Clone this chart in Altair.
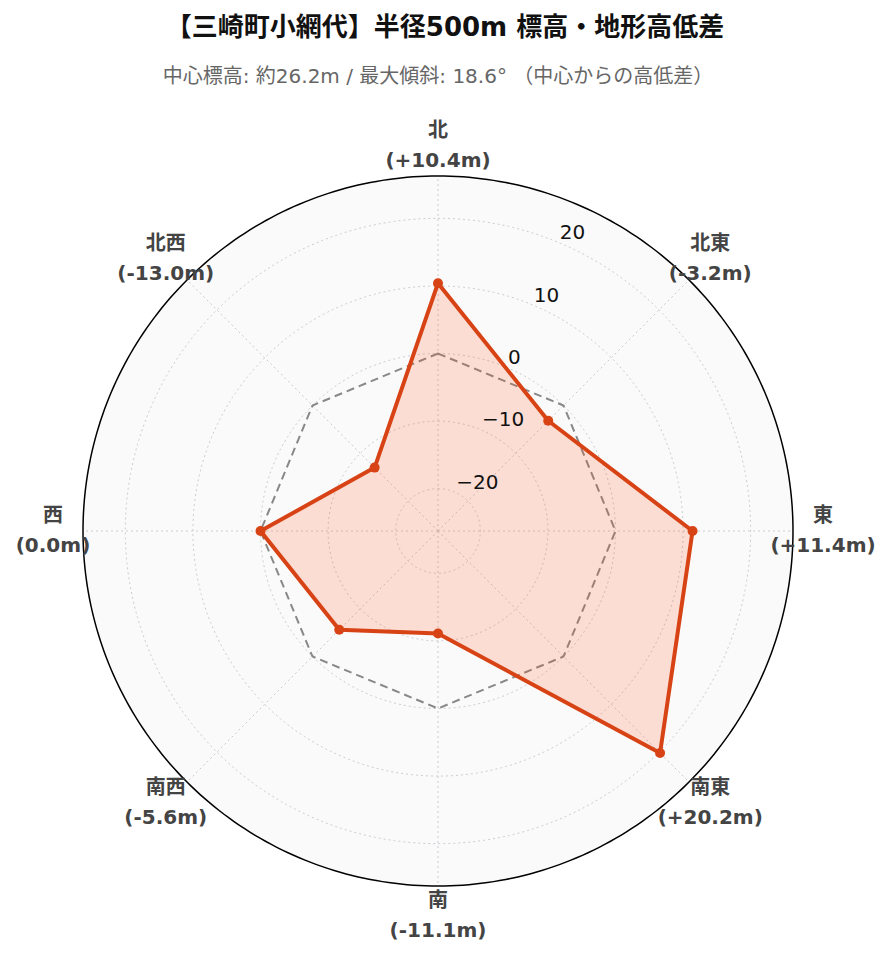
import altair as alt
import pandas as pd

# ---------------- data ----------------
directions = ["北", "北東", "東", "南東", "南", "南西", "西", "北西"]
diffs = [10.4, -3.2, 11.4, 20.2, -11.1, -5.6, 0.0, -13.0]
grid_values = [-20, -10, 0, 10, 20]
tick_labels = ["\u221220", "\u221210", "0", "10", "20"]
title_text = "【三崎町小網代】半径500m 標高・地形高低差"
subtitle_text = "中心標高: 約26.2m / 最大傾斜: 18.6° （中心からの高低差）"

R_MIN, R_MAX = -26.26, 26.26  # radial axis range

# ---------------- layout ----------------
W, H = 875, 946
CX, CY = 430, 523            # centre of the polar area (px)
OUTER_PX = 355               # outer circle radius (px)
PX = OUTER_PX / (R_MAX - R_MIN)
LABEL_R = 385 / PX           # angular label distance (data units from centre)
TICK_ANGLE = 22.5

X_DOM = [-CX / PX, (W - CX) / PX]
Y_DOM = [-(H - CY) / PX, CY / PX]


def fmt(v):
    if v > 0:
        return f"(+{v:.1f}m)"
    if v < 0:
        return f"({v:.1f}m)"
    return "(0.0m)"


df = pd.DataFrame({
    "dir": directions,
    "v": diffs,
    "i": list(range(len(directions))),
    "label": [f"{d}|{fmt(v)}" for d, v in zip(directions, diffs)],
})
grid_df = pd.DataFrame({"g": grid_values, "lab": tick_labels})


def X(f):
    return alt.X(f, type="quantitative", scale=alt.Scale(domain=X_DOM, nice=False, zero=False), axis=None)


def Y(f):
    return alt.Y(f, type="quantitative", scale=alt.Scale(domain=Y_DOM, nice=False, zero=False), axis=None)


RAD = "PI/180"

# background disc
disc = alt.Chart(pd.DataFrame({"g": [R_MAX]})).transform_calculate(
    a="sequence(0, 360, 1)"
).transform_flatten(["a"]).transform_calculate(
    r=f"datum.g - ({R_MIN})",
).transform_calculate(
    x=f"datum.r * sin(datum.a*{RAD})", y=f"datum.r * cos(datum.a*{RAD})"
).mark_line(interpolate="linear-closed", fill="#fafafa", stroke="black", strokeWidth=1.5).encode(
    x=X("x"), y=Y("y"), order=alt.Order("a:Q")
)

# grid circles
grid = alt.Chart(grid_df).transform_calculate(
    a="sequence(0, 360, 1)"
).transform_flatten(["a"]).transform_calculate(
    r=f"datum.g - ({R_MIN})",
).transform_calculate(
    x=f"datum.r * sin(datum.a*{RAD})", y=f"datum.r * cos(datum.a*{RAD})"
).mark_line(interpolate="linear-closed", stroke="#c9cdd2", strokeWidth=1, strokeDash=[2, 3]).encode(
    x=X("x"), y=Y("y"), detail="g:N", order=alt.Order("a:Q")
)

# spokes
spokes = alt.Chart(df).transform_calculate(
    x0="0", y0="0",
    x1=f"({R_MAX - R_MIN}) * sin(datum.i*45*{RAD})",
    y1=f"({R_MAX - R_MIN}) * cos(datum.i*45*{RAD})",
).mark_rule(stroke="#c9cdd2", strokeWidth=1, strokeDash=[2, 3]).encode(
    x=X("x0"), y=Y("y0"), x2="x1:Q", y2="y1:Q"
)

# zero reference (dashed)
zero = alt.Chart(df).transform_calculate(
    r=f"0 - ({R_MIN})"
).transform_calculate(
    x=f"datum.r * sin(datum.i*45*{RAD})", y=f"datum.r * cos(datum.i*45*{RAD})"
).mark_line(interpolate="linear-closed", stroke="#888888", strokeWidth=2, strokeDash=[8, 5]).encode(
    x=X("x"), y=Y("y"), order=alt.Order("i:Q")
)

base = alt.Chart(df).transform_calculate(
    r=f"datum.v - ({R_MIN})"
).transform_calculate(
    x=f"datum.r * sin(datum.i*45*{RAD})", y=f"datum.r * cos(datum.i*45*{RAD})"
)

area = base.mark_line(
    interpolate="linear-closed", fill="#ff5722", fillOpacity=0.18,
    stroke="#d84315", strokeWidth=4, strokeJoin="round"
).encode(x=X("x"), y=Y("y"), order=alt.Order("i:Q"))

pts = base.mark_circle(size=100, color="#d84315", opacity=1).encode(x=X("x"), y=Y("y"))

# radial tick labels
ticks = alt.Chart(grid_df).transform_calculate(
    r=f"datum.g - ({R_MIN})"
).transform_calculate(
    x=f"datum.r * sin({TICK_ANGLE}*{RAD})", y=f"datum.r * cos({TICK_ANGLE}*{RAD})"
).mark_text(
    align="left", baseline="alphabetic", dx=2, dy=-3,
    font="DejaVu Sans", fontSize=20, color="#111111"
).encode(x=X("x"), y=Y("y"), text="lab:N")

# angular labels
ang = alt.Chart(df).transform_calculate(
    x=f"{LABEL_R} * sin(datum.i*45*{RAD})",
    y=f"{LABEL_R} * cos(datum.i*45*{RAD})",
    t="split(datum.label, '|')",
).mark_text(
    align="center", baseline="middle", lineHeight=30, dy=-15,
    font="DejaVu Sans, Noto Sans CJK JP", fontWeight="bold", fontSize=20, color="#444444"
).encode(x=X("x"), y=Y("y"), text=alt.Text("t", type="nominal"))

title = alt.Chart(pd.DataFrame({"t": [title_text]})).mark_text(
    align="center", baseline="middle", font="DejaVu Sans, Noto Sans CJK JP",
    fontWeight="bold", fontSize=26, color="#111111"
).encode(x=alt.value(437), y=alt.value(20), text="t:N")

subtitle = alt.Chart(pd.DataFrame({"t": [subtitle_text]})).mark_text(
    align="center", baseline="middle", font="DejaVu Sans, Noto Sans CJK JP",
    fontSize=20, color="#666666"
).encode(x=alt.value(430), y=alt.value(69), text="t:N")

chart = alt.layer(disc, grid, spokes, zero, area, pts, ticks, ang, title, subtitle).properties(
    width=W, height=H, autosize=alt.AutoSizeParams(type="none"), padding=0
).configure_view(stroke=None)

chart.save("out.html", embed_options={"renderer": "svg", "actions": False})
